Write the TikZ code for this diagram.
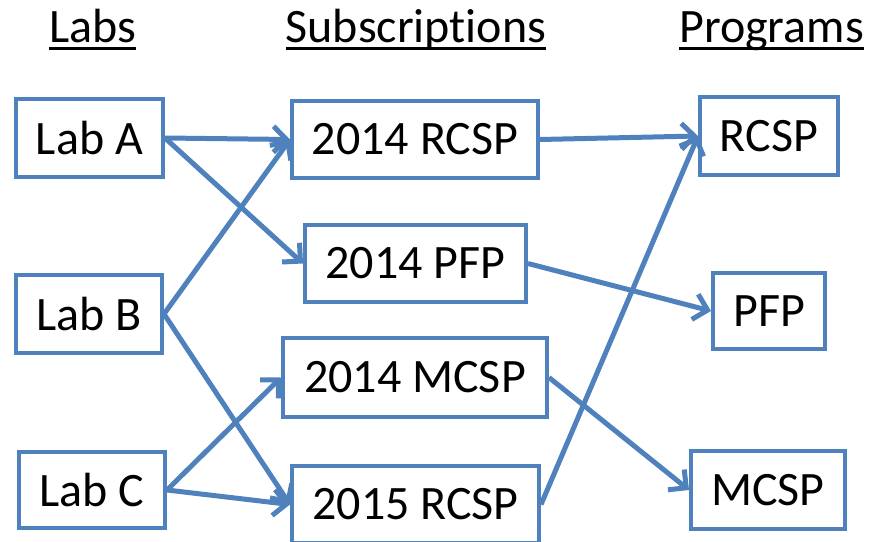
\documentclass[tikz,border=0pt]{standalone}
\usepackage{fontspec}
\setmainfont{Carlito}[Ligatures = NoCommon]
\usepackage{xcolor}
\usetikzlibrary{arrows.meta}
\definecolor{boxblue}{HTML}{4F81BD}

\begin{document}
\begin{tikzpicture}[x = 1pt, y = -1pt,
	box/.style = {draw = boxblue, line width = 4pt, fill = white, inner sep = 0pt,
		font = \fontsize{48}{57}\selectfont},
	head/.style = {inner sep = 0pt, anchor = base, font = \fontsize{48}{57}\selectfont},
	link/.style = {draw = boxblue, line width = 5pt, -{Straight Barb[length = 13pt, width = 26pt, line width = 5pt]}}]
	\useasboundingbox (0,0) rectangle (882,541);

	% headings
	\node [head] (labs) at (92.5,42) {Labs};
	\node [head] (subs) at (416,42) {Subscriptions};
	\node [head] (progs) at (771.5,42) {Programs};
	\foreach \h in {labs, subs, progs}
	{
		\draw [line width = 3pt] ([yshift = -6pt]\h.base west) -- ([yshift = -6pt]\h.base east);
	}

	% labs
	\node [box, minimum width = 147pt, minimum height = 78pt] (labA) at (89.5,138) {Lab A};
	\node [box, minimum width = 146pt, minimum height = 78pt] (labB) at (89,314) {Lab B};
	\node [box, minimum width = 146pt, minimum height = 76pt] (labC) at (92,490) {Lab C};

	% subscriptions
	\node [box, minimum width = 246pt, minimum height = 77pt] (sub14r) at (415,139.5) {2014 RCSP};
	\node [box, minimum width = 221pt, minimum height = 77pt] (sub14p) at (415.5,263.5) {2014 PFP};
	\node [box, minimum width = 264pt, minimum height = 79pt] (sub14m) at (415,377.5) {2014 MCSP};
	\node [box, minimum width = 247pt, minimum height = 77pt] (sub15r) at (415.5,504.5) {2015 RCSP};

	% programs
	\node [box, minimum width = 138pt, minimum height = 78pt] (progR) at (769,136) {RCSP};
	\node [box, minimum width = 112pt, minimum height = 76pt] (progP) at (769,311) {PFP};
	\node [box, minimum width = 154pt, minimum height = 78pt] (progM) at (768,490) {MCSP};

	\begin{scope}[link]
		\draw (labA.east) -- (sub14r.west);
		\draw (labA.east) -- (sub14p.west);
		\draw (labB.east) -- (sub14r.west);
		\draw (labB.east) -- (sub15r.west);
		\draw (labC.east) -- (sub14m.west);
		\draw (labC.east) -- (sub15r.west);
		\draw (sub14r.east) -- (progR.west);
		\draw (sub14p.east) -- (progP.west);
		\draw (sub14m.east) -- (progM.west);
		\draw (sub15r.east) -- (progR.west);
	\end{scope}
\end{tikzpicture}
\end{document}
